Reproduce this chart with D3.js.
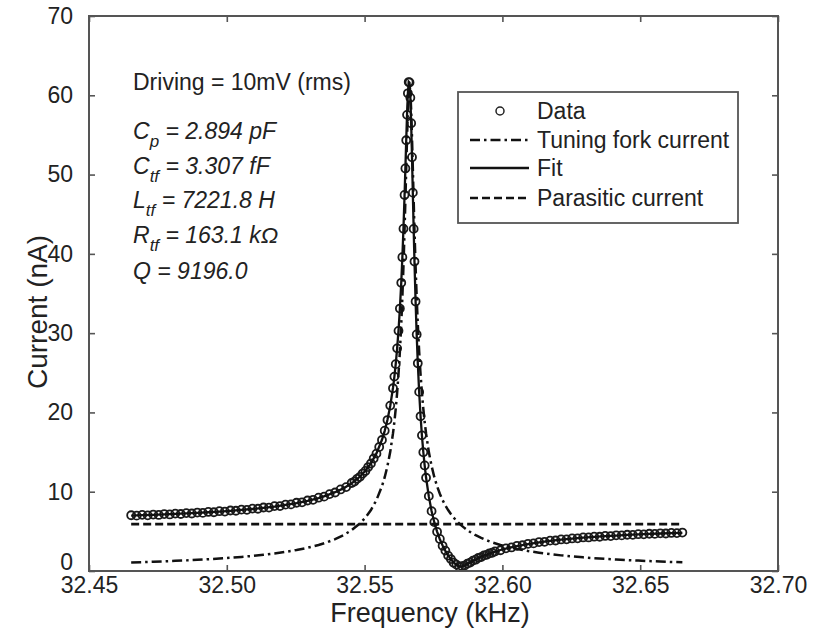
<!DOCTYPE html>
<html>
  <head>
    <meta charset="UTF-8">
    <script src="https://d3js.org/d3.v7.min.js"></script>
    <title>tuning fork resonance</title>
    <style>
      body { margin: 0; background: #fff; }
      text { font-family: "Liberation Sans", Arial, Helvetica, sans-serif; fill: #222; }
    </style>
  </head>
  <body>
    <svg class="chart"></svg>
    <script type="text/javascript">

     var width = 824,
         height = 638,
         plotLeft = 89, plotRight = 778, plotTop = 16, plotBottom = 571;

     // measured data (kHz, nA)
     var dataFreq = [
       32.4653, 32.4673, 32.4693, 32.4713, 32.4733, 32.4753, 32.4773, 32.4793, 32.4813, 32.4833,
       32.4853, 32.4873, 32.4893, 32.4913, 32.4933, 32.4953, 32.4973, 32.4993, 32.5013, 32.5033,
       32.5053, 32.5073, 32.5093, 32.5113, 32.5133, 32.5153, 32.5173, 32.5193, 32.5213, 32.5233,
       32.5253, 32.5273, 32.5293, 32.5313, 32.5333, 32.5353, 32.5373, 32.5393, 32.5413, 32.5433,
       32.5453,
       32.5463, 32.5473, 32.5483, 32.5493, 32.5503, 32.5513, 32.5523, 32.5533, 32.5543, 32.5553,
       32.5563, 32.5573, 32.5583, 32.5593, 32.5603,
       32.5608, 32.5613, 32.5618, 32.5623, 32.5628, 32.5633, 32.5637, 32.5641, 32.5645, 32.5648,
       32.5651, 32.5654, 32.5657, 32.5660, 32.5663, 32.5666, 32.5669, 32.5672, 32.5675, 32.5678,
       32.5681, 32.5685, 32.5689, 32.5693, 32.5698, 32.5703, 32.5708, 32.5713, 32.5718,
       32.5723, 32.5733, 32.5743, 32.5753, 32.5763, 32.5773, 32.5783, 32.5793, 32.5803, 32.5813,
       32.5823, 32.5833, 32.5843, 32.5853, 32.5863, 32.5873, 32.5883, 32.5893, 32.5903, 32.5913,
       32.5923, 32.5933, 32.5943, 32.5953, 32.5963, 32.5973,
       32.5993, 32.6013, 32.6033, 32.6053, 32.6073, 32.6093, 32.6113, 32.6133, 32.6153, 32.6173,
       32.6193, 32.6213, 32.6233, 32.6253, 32.6273, 32.6293, 32.6313, 32.6333, 32.6353, 32.6373,
       32.6393, 32.6413, 32.6433, 32.6453, 32.6473, 32.6493, 32.6513, 32.6533, 32.6553, 32.6573,
       32.6593, 32.6613, 32.6633, 32.6653
     ];
     var dataCurrent = [
       7.03, 6.98, 7.08, 7.02, 7.12, 7.07, 7.18, 7.13, 7.24, 7.19,
       7.30, 7.25, 7.37, 7.33, 7.45, 7.41, 7.54, 7.50, 7.63, 7.60,
       7.74, 7.72, 7.87, 7.85, 8.01, 8.00, 8.18, 8.19, 8.37, 8.40,
       8.61, 8.66, 8.89, 8.98, 9.25, 9.38, 9.70, 9.90, 10.29, 10.58,
       11.10,
       11.28, 11.63, 11.88, 12.29, 12.62, 13.11, 13.56, 14.19, 14.80, 15.64,
       16.52, 17.70, 19.04, 20.86, 23.05,
       24.52, 26.09, 28.08, 30.29, 33.10, 36.35, 39.58, 43.17, 47.43, 50.77,
       54.33, 57.53, 60.25, 61.67, 61.62, 59.70, 56.48, 52.19, 47.72, 43.15,
       39.03, 33.99, 29.84, 26.20, 22.59, 19.51, 17.11, 14.98, 13.31,
       11.76, 9.44, 7.55, 6.16, 4.94, 4.04, 3.18, 2.57, 1.94, 1.51,
       1.05, 0.80, 0.56, 0.62, 0.69, 0.93, 1.06, 1.31, 1.43, 1.66,
       1.76, 1.97, 2.04, 2.23, 2.30, 2.47,
       2.62, 2.86, 2.97, 3.18, 3.25, 3.43, 3.48, 3.65, 3.68, 3.83,
       3.85, 3.98, 3.99, 4.11, 4.12, 4.23, 4.23, 4.33, 4.32, 4.42,
       4.41, 4.50, 4.49, 4.57, 4.56, 4.64, 4.62, 4.70, 4.68, 4.75,
       4.73, 4.80, 4.78, 4.85
     ];

     // fitted curves (kHz, nA)
     var lineFreq = [
       32.4653, 32.4693, 32.4733, 32.4773, 32.4813, 32.4853, 32.4893, 32.4933, 32.4973, 32.5013,
       32.5053, 32.5093, 32.5133, 32.5173, 32.5213, 32.5253, 32.5293, 32.5333,
       32.5363, 32.5393, 32.5423, 32.5453,
       32.5483, 32.5503, 32.5523, 32.5543, 32.5563,
       32.5573, 32.5583, 32.5593, 32.5603,
       32.5608, 32.5613, 32.5618, 32.5623, 32.5628, 32.5633,
       32.5637, 32.5641, 32.5645,
       32.5648, 32.5651, 32.5654, 32.5657, 32.5660, 32.5663,
       32.5666, 32.5669, 32.5672, 32.5675, 32.5678,
       32.5681, 32.5685, 32.5689, 32.5693,
       32.5698, 32.5703, 32.5708, 32.5713, 32.5718, 32.5723,
       32.5733, 32.5743, 32.5753, 32.5763, 32.5773, 32.5783, 32.5793, 32.5803, 32.5813, 32.5823,
       32.5833, 32.5843, 32.5853, 32.5863, 32.5873, 32.5883,
       32.5903, 32.5923, 32.5943, 32.5963,
       32.5993, 32.6023, 32.6053,
       32.6093, 32.6133, 32.6173, 32.6213, 32.6253, 32.6293, 32.6333, 32.6373, 32.6413, 32.6453,
       32.6493, 32.6533, 32.6573, 32.6613, 32.6653
     ];
     var fitCurrent = [
       6.99, 7.04, 7.09, 7.14, 7.20, 7.26, 7.33, 7.41, 7.49, 7.59,
       7.70, 7.82, 7.97, 8.13, 8.33, 8.56, 8.85, 9.20,
       9.53, 9.94, 10.42, 11.06,
       11.91, 12.65, 13.59, 14.83, 16.55,
       17.68, 19.07, 20.82, 23.09,
       24.49, 26.12, 28.04, 30.32, 33.06, 36.38,
       39.54, 43.21, 47.39,
       50.81, 54.29, 57.57, 60.22, 61.71, 61.59,
       59.74, 56.44, 52.23, 47.68, 43.19,
       38.99, 34.03, 29.80, 26.24,
       22.55, 19.55, 17.08, 15.01, 13.28, 11.79,
       9.41, 7.58, 6.13, 4.97, 4.01, 3.21, 2.54, 1.97, 1.48, 1.08,
       0.77, 0.59, 0.59, 0.72, 0.90, 1.09,
       1.46, 1.79, 2.07, 2.32,
       2.65, 2.92, 3.15,
       3.40, 3.62, 3.80, 3.95, 4.08, 4.20, 4.30, 4.39, 4.47, 4.55,
       4.61, 4.67, 4.73, 4.78, 4.82
     ];
     var tfCurrent = [
       1.08, 1.12, 1.17, 1.22, 1.28, 1.34, 1.41, 1.49, 1.57, 1.67,
       1.78, 1.90, 2.05, 2.21, 2.41, 2.65, 2.93, 3.28,
       3.61, 4.01, 4.51, 5.15,
       6.00, 6.74, 7.69, 8.95, 10.69,
       11.83, 13.25, 15.03, 17.35,
       18.79, 20.47, 22.45, 24.82, 27.67, 31.16,
       34.51, 38.44, 42.99,
       46.78, 50.75, 54.65, 58.06, 60.44, 61.30,
       60.44, 58.06, 54.65, 50.75, 46.78,
       42.99, 38.44, 34.51, 31.16,
       27.67, 24.82, 22.45, 20.47, 18.79, 17.35,
       15.03, 13.25, 11.83, 10.69, 9.74, 8.95, 8.27, 7.69, 7.19, 6.74,
       6.35, 6.00, 5.69, 5.41, 5.15, 4.92,
       4.51, 4.17, 3.87, 3.61,
       3.28, 3.01, 2.78,
       2.52, 2.31, 2.13, 1.97, 1.84, 1.72, 1.62, 1.53, 1.45, 1.37,
       1.31, 1.25, 1.19, 1.14, 1.10
     ];
     var parasiticFreq = [32.4653, 32.6653];
     var parasiticCurrent = [5.92, 5.92];

     var xTicks = [32.45, 32.50, 32.55, 32.60, 32.65, 32.70];
     var yTicks = [0, 10, 20, 30, 40, 50, 60, 70];

     var legendLabels = ["Data", "Tuning fork current", "Fit", "Parasitic current"];
     var notes = [
       {main: "C", sub: "p", rest: " = 2.894 pF"},
       {main: "C", sub: "tf", rest: " = 3.307 fF"},
       {main: "L", sub: "tf", rest: " = 7221.8 H"},
       {main: "R", sub: "tf", rest: " = 163.1 k\u03A9"},
       {main: "Q", sub: "", rest: " = 9196.0"}
     ];

     var chart = d3.select(".chart")
                   .attr("width", width)
                   .attr("height", height);

     chart.append("rect").attr("width", width).attr("height", height).attr("fill", "#fff");

     var x = d3.scaleLinear().domain([32.45, 32.70]).range([plotLeft, plotRight]);
     var y = d3.scaleLinear().domain([0, 70]).range([plotBottom, plotTop]);

     var axisColor = "#555";

     // data circles
     chart.append("g")
          .selectAll("circle")
          .data(d3.zip(dataFreq, dataCurrent))
          .enter().append("circle")
          .attr("cx", function(d) { return x(d[0]); })
          .attr("cy", function(d) { return y(d[1]); })
          .attr("r", 4)
          .attr("fill", "none")
          .attr("stroke", "#1a1a1a")
          .attr("stroke-width", 1.8);

     var line = d3.line()
                  .x(function(d) { return x(d[0]); })
                  .y(function(d) { return y(d[1]); });

     var styles = {
       tf:   {dash: "10,4,2.5,4", width: 2.5},
       fit:  {dash: null, width: 2.3},
       para: {dash: "8,4", width: 2.7}
     };

     function drawLine(xs, ys, st) {
       chart.append("path")
            .datum(d3.zip(xs, ys))
            .attr("d", line)
            .attr("fill", "none")
            .attr("stroke", "#111")
            .attr("stroke-width", st.width)
            .attr("stroke-dasharray", st.dash);
     }
     drawLine(lineFreq, tfCurrent, styles.tf);
     drawLine(lineFreq, fitCurrent, styles.fit);
     drawLine(parasiticFreq, parasiticCurrent, styles.para);

     // axes, ticks inward on all four sides
     var gx = chart.append("g")
          .attr("transform", "translate(0," + plotBottom + ")")
          .call(d3.axisBottom(x).tickValues(xTicks).tickFormat(d3.format(".2f"))
                .tickSizeInner(-6).tickSizeOuter(0).tickPadding(6));
     var gy = chart.append("g")
          .attr("transform", "translate(" + plotLeft + ",0)")
          .call(d3.axisLeft(y).tickValues(yTicks).tickFormat(d3.format("d"))
                .tickSizeInner(-6).tickSizeOuter(0).tickPadding(16));
     var gt = chart.append("g")
          .attr("transform", "translate(0," + plotTop + ")")
          .call(d3.axisTop(x).tickValues(xTicks).tickFormat("")
                .tickSizeInner(-6).tickSizeOuter(0));
     var gr = chart.append("g")
          .attr("transform", "translate(" + plotRight + ",0)")
          .call(d3.axisRight(y).tickValues(yTicks).tickFormat("")
                .tickSizeInner(-6).tickSizeOuter(0));

     [gx, gy, gt, gr].forEach(function(g) {
       g.select(".domain").remove();
       g.selectAll("line").attr("stroke", axisColor).attr("stroke-width", 1.6);
       g.selectAll("text").attr("font-size", 23).attr("fill", "#2a2a2a")
        .attr("font-family", "'Liberation Sans', Arial, sans-serif");
     });
     // the zero label sits a little above its tick, as in the original
     gy.selectAll(".tick text").filter(function(d) { return d === 0; }).attr("y", -9);

     chart.append("rect")
          .attr("x", plotLeft).attr("y", plotTop)
          .attr("width", plotRight - plotLeft).attr("height", plotBottom - plotTop)
          .attr("fill", "none")
          .attr("stroke", axisColor)
          .attr("stroke-width", 2);

     // axis titles
     chart.append("text")
          .attr("x", 430)
          .attr("y", 622)
          .attr("text-anchor", "middle")
          .attr("font-size", 27)
          .text("Frequency (kHz)");

     chart.append("text")
          .attr("transform", "translate(47,312) rotate(-90)")
          .attr("text-anchor", "middle")
          .attr("font-size", 28)
          .text("Current (nA)");

     // annotations
     chart.append("text")
          .attr("x", 133).attr("y", 90)
          .attr("font-size", 23)
          .text("Driving = 10mV (rms)");

     var noteY = [139, 174, 208, 243, 279];
     notes.forEach(function(n, i) {
       var t = chart.append("text")
                    .attr("x", 133).attr("y", noteY[i])
                    .attr("font-size", 23)
                    .attr("font-style", "italic");
       t.append("tspan").text(n.main);
       if (n.sub) {
         t.append("tspan").attr("dy", 8).attr("font-size", 17).text(n.sub);
         t.append("tspan").attr("dy", -8).text(n.rest);
       } else {
         t.append("tspan").text(n.rest);
       }
     });

     // legend
     var lg = chart.append("g");
     lg.append("rect")
       .attr("x", 458).attr("y", 92)
       .attr("width", 280).attr("height", 131)
       .attr("fill", "#fff")
       .attr("stroke", axisColor)
       .attr("stroke-width", 1.8);

     var rowY = [111, 140, 168, 198];
     var rowStyle = [null, styles.tf, styles.fit, styles.para];
     legendLabels.forEach(function(label, i) {
       if (i === 0) {
         lg.append("circle")
           .attr("cx", 500).attr("cy", rowY[i]).attr("r", 4)
           .attr("fill", "none").attr("stroke", "#222").attr("stroke-width", 1.5);
       } else {
         lg.append("line")
           .attr("x1", 470).attr("x2", 529)
           .attr("y1", rowY[i]).attr("y2", rowY[i])
           .attr("stroke", "#111")
           .attr("stroke-width", rowStyle[i].width)
           .attr("stroke-dasharray", rowStyle[i].dash);
       }
       lg.append("text")
         .attr("x", 537).attr("y", rowY[i] + 8)
         .attr("font-size", 23)
         .text(label);
     });

    </script>
  </body>
</html>
